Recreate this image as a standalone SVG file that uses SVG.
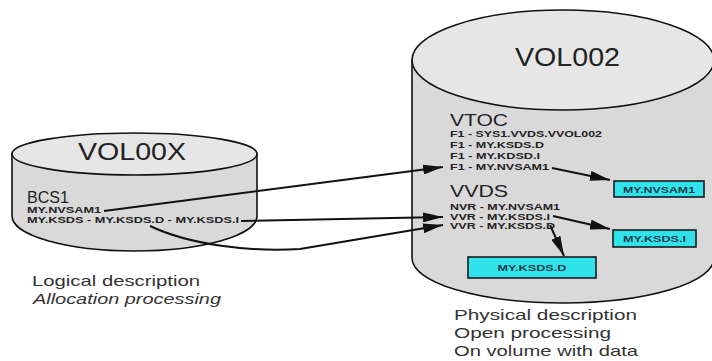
<svg xmlns="http://www.w3.org/2000/svg" width="712" height="361" viewBox="0 0 712 361">
<style>
.cyl{fill:#d9d9d9;stroke:#111;stroke-width:1.6}
.top{fill:#e6e6e6;stroke:#111;stroke-width:1.6}
.big{font-family:"Liberation Sans",Arial,sans-serif;fill:#222}
.sm{font-family:"Liberation Sans",Arial,sans-serif;font-weight:bold;font-size:9px;fill:#222}
.box{fill:#30e3ea;stroke:#1a1a1a;stroke-width:1.6}
.bt{font-family:"Liberation Sans",Arial,sans-serif;font-weight:bold;font-size:9px;fill:#1e3a4c;text-anchor:middle}
.cap{font-family:"Liberation Sans",Arial,sans-serif;font-size:15px;fill:#333}
.ln{fill:none;stroke:#111;stroke-width:2;marker-end:url(#ah)}
</style>
<defs>
<marker id="ah" markerUnits="userSpaceOnUse" markerWidth="20" markerHeight="10" refX="20" refY="5" orient="auto">
<path d="M0,0 L20,5 L0,10 Z" fill="#111"/>
</marker>
</defs>
<rect width="712" height="361" fill="#fff"/>
<g id="vol00x">
<path class="cyl" d="M12,154 L12,216 A122.5,35 0 0 0 257,216 L257,154 Z"/>
<ellipse class="top" cx="134.5" cy="154" rx="122.5" ry="21"/>
<text class="big" x="78" y="160" font-size="24" textLength="108" lengthAdjust="spacingAndGlyphs">VOL00X</text>
<text class="big" x="27" y="203" font-size="16" textLength="42" lengthAdjust="spacingAndGlyphs">BCS1</text>
<text class="sm" x="27" y="213" textLength="74" lengthAdjust="spacingAndGlyphs">MY.NVSAM1</text>
<text class="sm" x="27" y="223" textLength="212" lengthAdjust="spacingAndGlyphs">MY.KSDS - MY.KSDS.D - MY.KSDS.I</text>
</g>
<g id="vol002">
<path class="cyl" d="M412,60 L412,258 A151,45 0 0 0 714,258 L714,60 Z"/>
<ellipse class="top" cx="563" cy="60" rx="151" ry="50"/>
<text class="big" x="515" y="66" font-size="25" textLength="105" lengthAdjust="spacingAndGlyphs">VOL002</text>
<text class="big" x="450" y="126" font-size="17" textLength="58" lengthAdjust="spacingAndGlyphs">VTOC</text>
<text class="sm" x="450" y="137" textLength="152" lengthAdjust="spacingAndGlyphs">F1 - SYS1.VVDS.VVOL002</text>
<text class="sm" x="450" y="148" textLength="94" lengthAdjust="spacingAndGlyphs">F1 - MY.KSDS.D</text>
<text class="sm" x="450" y="159" textLength="90" lengthAdjust="spacingAndGlyphs">F1 - MY.KDSD.I</text>
<text class="sm" x="450" y="170" textLength="99" lengthAdjust="spacingAndGlyphs">F1 - MY.NVSAM1</text>
<text class="big" x="450" y="197" font-size="17" textLength="58" lengthAdjust="spacingAndGlyphs">VVDS</text>
<text class="sm" x="450" y="210" textLength="110" lengthAdjust="spacingAndGlyphs">NVR - MY.NVSAM1</text>
<text class="sm" x="450" y="220" textLength="100" lengthAdjust="spacingAndGlyphs">VVR - MY.KSDS.I</text>
<text class="sm" x="450" y="229" textLength="105" lengthAdjust="spacingAndGlyphs">VVR - MY.KSDS.D</text>
</g>
<g id="box-nvsam1">
<rect class="box" x="614" y="181" width="90" height="16"/>
<text class="bt" x="659" y="192.5" textLength="72" lengthAdjust="spacingAndGlyphs">MY.NVSAM1</text>
</g>
<g id="box-ksdsi">
<rect class="box" x="613" y="230" width="83" height="17"/>
<text class="bt" x="654.5" y="242" textLength="63" lengthAdjust="spacingAndGlyphs">MY.KSDS.I</text>
</g>
<g id="box-ksdsd">
<rect class="box" x="468" y="257" width="128" height="21"/>
<text class="bt" x="532" y="271" textLength="69" lengthAdjust="spacingAndGlyphs">MY.KSDS.D</text>
</g>
<g id="connectors">
<path class="ln" d="M104,211 L443,167"/>
<path class="ln" d="M241,221 L443,217"/>
<path class="ln" d="M150,226 C190,245 250,252 300,249 L443,225"/>
<path class="ln" d="M552,168 L610,180"/>
<path class="ln" d="M553,216 L610,229"/>
<path class="ln" d="M550,225 L564,256"/>
</g>
<g id="captions">
<text class="cap" x="32" y="286" textLength="168" lengthAdjust="spacingAndGlyphs">Logical description</text>
<text class="cap" x="33" y="304" font-size="13" font-style="italic" textLength="188" lengthAdjust="spacingAndGlyphs">Allocation processing</text>
<text class="cap" x="454" y="320" textLength="183" lengthAdjust="spacingAndGlyphs">Physical description</text>
<text class="cap" x="454" y="338" textLength="157" lengthAdjust="spacingAndGlyphs">Open processing</text>
<text class="cap" x="454" y="356" textLength="184" lengthAdjust="spacingAndGlyphs">On volume with data</text>
</g>
</svg>
